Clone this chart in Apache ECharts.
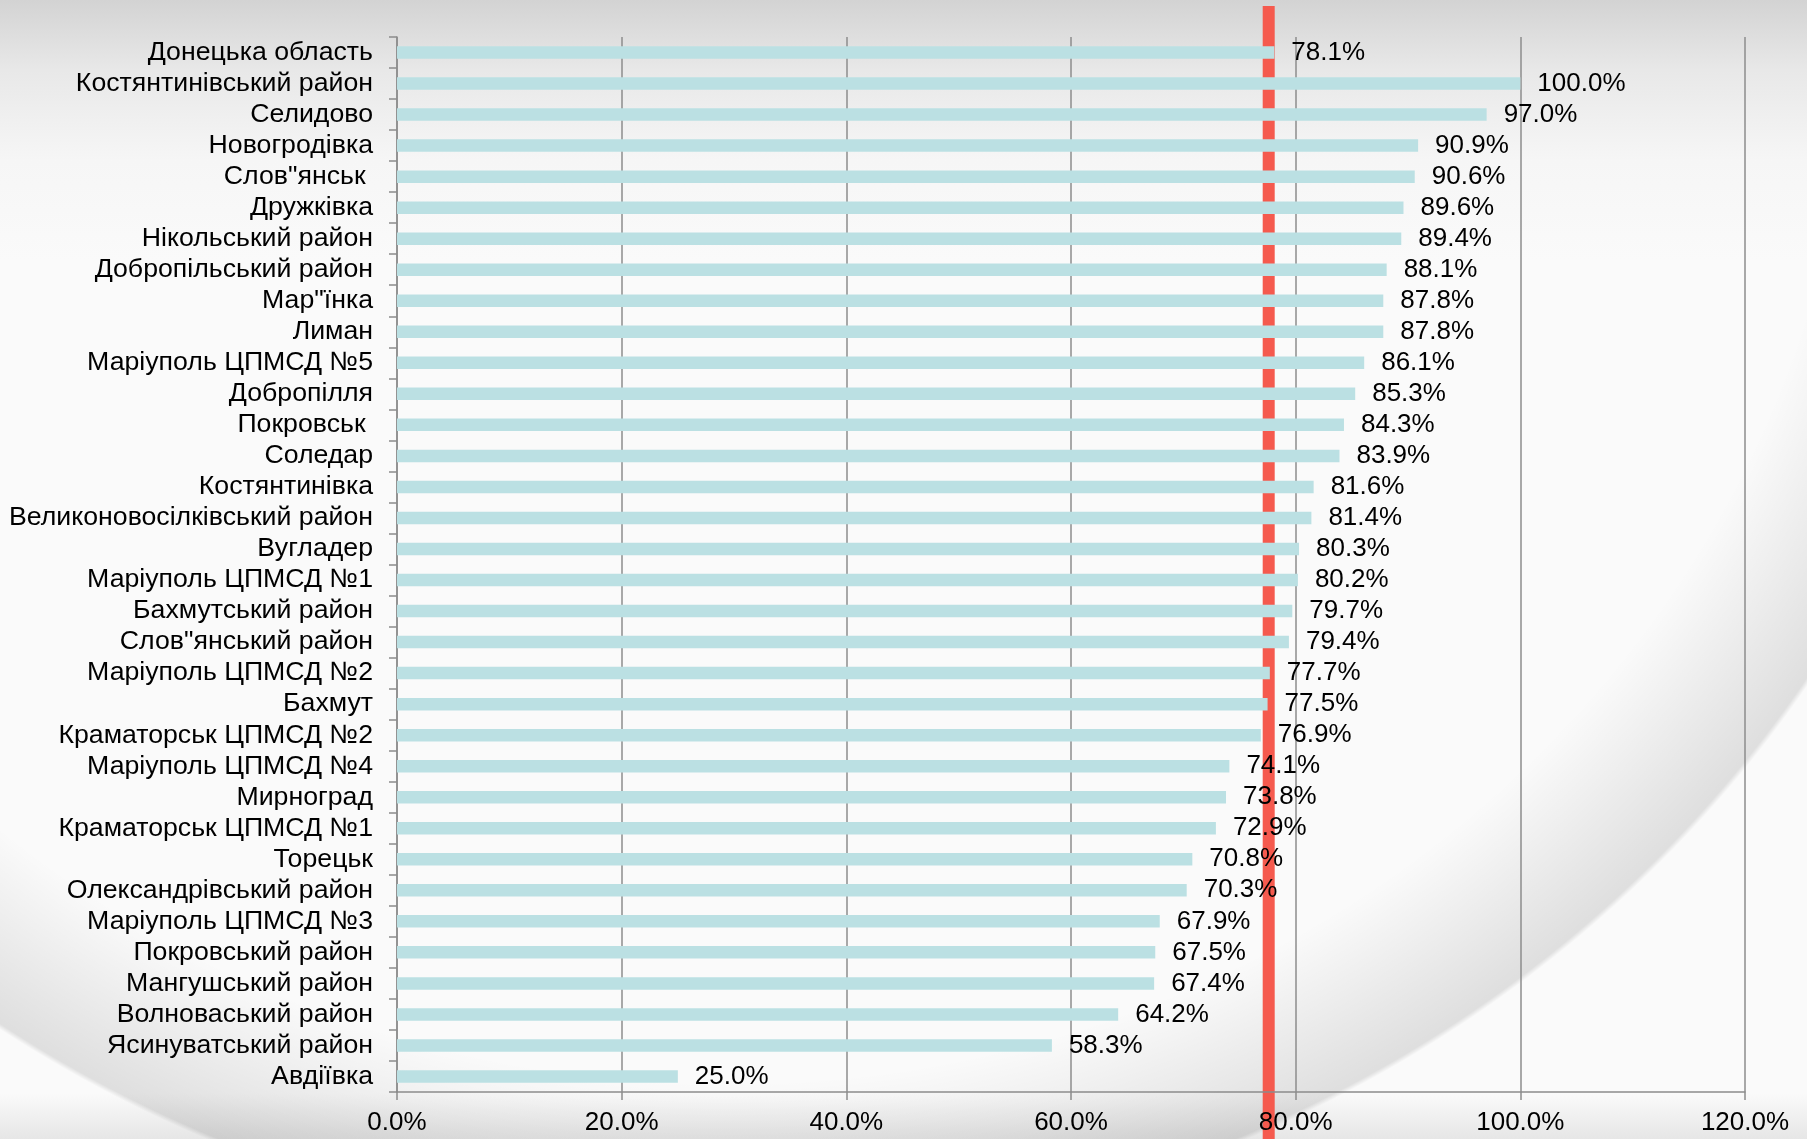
<!DOCTYPE html>
<html>
<head>
<meta charset="utf-8">
<script src="https://cdn.jsdelivr.net/npm/echarts@6/dist/echarts.min.js"></script>
<style>
  html, body {
    margin: 0;
    padding: 0;
  }
  body {
    width: 1807px;
    height: 1139px;
    overflow: hidden;
    background:
      radial-gradient(ellipse 1295px 1244px at 727px 0px, rgba(0,0,0,0) 0%, rgba(0,0,0,0) 87%, rgba(0,0,0,0.11) 99.6%, rgba(0,0,0,0) 100%),
      linear-gradient(to bottom, #d3d3d3 0px, #e8e8e8 70px, #f6f6f6 160px, rgba(250,250,250,0) 260px),
      linear-gradient(to top, #e6e6e6 0px, rgba(250,250,250,0) 45px),
      #fafafa;
  }
  #chart {
    width: 1807px;
    height: 1139px;
  }
</style>
</head>
<body>
<div id="chart"></div>
<script>
// охоплення по районах / ЦПМСД, %
const categories = [
  'Донецька область', 'Костянтинівський район', 'Селидово', 'Новогродівка', 'Слов"янськ ',
  'Дружківка', 'Нікольський район', 'Добропільський район', 'Мар"їнка', 'Лиман',
  'Маріуполь ЦПМСД №5', 'Добропілля', 'Покровськ ', 'Соледар', 'Костянтинівка',
  'Великоновосілківський район', 'Вугладер', 'Маріуполь ЦПМСД №1', 'Бахмутський район', 'Слов"янський район',
  'Маріуполь ЦПМСД №2', 'Бахмут', 'Краматорськ ЦПМСД №2', 'Маріуполь ЦПМСД №4', 'Мирноград',
  'Краматорськ ЦПМСД №1', 'Торецьк', 'Олександрівський район', 'Маріуполь ЦПМСД №3', 'Покровський район',
  'Мангушський район', 'Волноваський район', 'Ясинуватський район', 'Авдіївка'
];
const values = [
  78.1, 100.0, 97.0, 90.9, 90.6,
  89.6, 89.4, 88.1, 87.8, 87.8,
  86.1, 85.3, 84.3, 83.9, 81.6,
  81.4, 80.3, 80.2, 79.7, 79.4,
  77.7, 77.5, 76.9, 74.1, 73.8,
  72.9, 70.8, 70.3, 67.9, 67.5,
  67.4, 64.2, 58.3, 25.0
];
const targetLine = 77.6;   // червона лінія
const xMin = 0, xMax = 120, xStep = 20;

const FONT = '"Liberation Sans", Arial, sans-serif';
const GRAY = '#8c8c8c';

const chart = echarts.init(document.getElementById('chart'));

chart.setOption({
  backgroundColor: 'transparent',
  animation: false,
  textStyle: {fontFamily: FONT},
  grid: {
    left: 397,
    right: 62,
    top: 37,
    bottom: 47,
    outerBoundsMode: 'none'
  },
  xAxis: {
    type: 'value',
    min: xMin,
    max: xMax,
    interval: xStep,
    axisLine: {show: true, lineStyle: {color: GRAY, width: 1.5}},
    axisTick: {show: true, length: 8, lineStyle: {color: GRAY, width: 1.5}},
    splitLine: {show: true, lineStyle: {color: GRAY, width: 1.5}},
    axisLabel: {
      color: '#000',
      fontSize: 26,
      fontFamily: FONT,
      margin: 18,
      formatter: v => v.toFixed(1) + '%'
    }
  },
  yAxis: {
    type: 'category',
    inverse: true,
    data: categories,
    axisLine: {show: true, lineStyle: {color: GRAY, width: 1.5}},
    axisTick: {show: true, length: 8, interval: 0, lineStyle: {color: GRAY, width: 1.5}},
    axisLabel: {
      interval: 0,
      color: '#000',
      fontSize: 26.7,
      fontFamily: FONT,
      margin: 24
    }
  },
  series: [{
    type: 'bar',
    data: values,
    barWidth: 12.5,
    z: 2,
    itemStyle: {color: '#BBE0E3'},
    label: {
      show: true,
      position: 'right',
      distance: 17,
      color: '#000',
      fontSize: 26,
      fontFamily: FONT,
      formatter: p => p.value.toFixed(1) + '%'
    }
  }]
});

// червона вертикаль через усю висоту, позиція з осі X
const lineX = chart.convertToPixel({xAxisIndex: 0}, targetLine);
chart.setOption({
  graphic: [{
    type: 'rect',
    z: -1,
    shape: {x: lineX - 6, y: 6, width: 12, height: 1139},
    style: {fill: '#F55A4E'}
  }]
});
</script>
</body>
</html>
